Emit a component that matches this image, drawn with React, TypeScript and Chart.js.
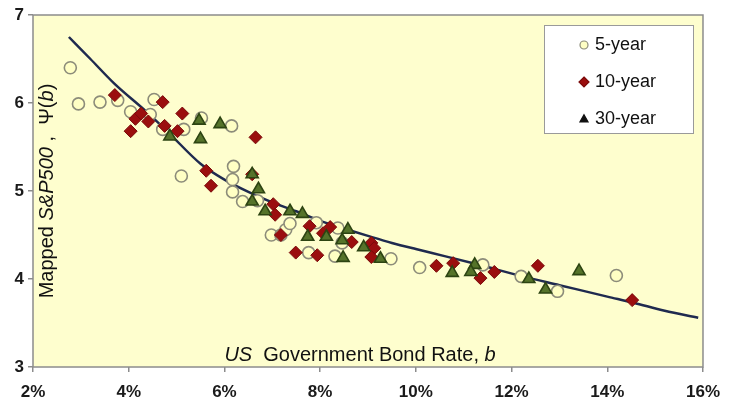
import React, { useEffect, useRef } from 'react';
import { Chart, registerables } from 'chart.js';

Chart.register(...registerables);

// ---------- data ----------
const xTickValues = [2, 4, 6, 8, 10, 12, 14, 16];
const yTickValues = [3, 4, 5, 6, 7];

const fiveYear: [number, number][] = [
  [2.78, 6.40], [2.95, 5.99], [3.40, 6.01], [3.77, 6.03], [4.53, 6.04],
  [4.04, 5.90], [4.45, 5.87], [4.71, 5.70], [5.15, 5.70], [5.52, 5.83],
  [6.15, 5.74], [5.10, 5.17], [6.19, 5.28], [6.17, 5.13], [6.17, 4.99],
  [6.38, 4.88], [6.69, 4.89], [6.98, 4.50], [7.18, 4.50], [7.28, 4.56],
  [7.37, 4.63], [7.92, 4.64], [8.37, 4.58], [7.76, 4.30], [8.31, 4.26],
  [8.46, 4.41], [9.48, 4.23], [10.08, 4.13], [11.40, 4.16], [12.20, 4.03],
  [12.96, 3.86], [14.19, 4.04],
];

const tenYear: [number, number][] = [
  [3.71, 6.09], [4.71, 6.01], [5.12, 5.88], [4.14, 5.82], [4.26, 5.88],
  [4.41, 5.79], [4.04, 5.68], [4.75, 5.74], [5.02, 5.68], [5.62, 5.23],
  [5.72, 5.06], [6.65, 5.61], [6.58, 5.19], [7.02, 4.85], [7.06, 4.73],
  [7.78, 4.60], [8.21, 4.59], [8.06, 4.52], [8.66, 4.42], [7.49, 4.30],
  [7.94, 4.27], [9.07, 4.41], [9.13, 4.35], [9.07, 4.25], [10.43, 4.15],
  [10.78, 4.18], [11.35, 4.01], [11.64, 4.08], [12.55, 4.15], [14.52, 3.76],
  [7.18, 4.50],
];

const thirtyYear: [number, number][] = [
  [5.47, 5.80], [5.91, 5.76], [5.50, 5.59], [4.86, 5.62], [6.58, 5.19],
  [6.71, 5.02], [6.58, 4.88], [6.85, 4.77], [7.37, 4.77], [7.63, 4.74],
  [8.58, 4.56], [7.74, 4.48], [8.13, 4.48], [8.46, 4.44], [8.91, 4.36],
  [8.48, 4.24], [9.26, 4.23], [10.76, 4.07], [11.23, 4.16], [11.15, 4.08],
  [12.36, 4.00], [12.71, 3.88], [13.41, 4.09],
];

const curveX = [2.75, 3.2, 3.7, 4.35, 4.82, 5.5, 6.0, 6.5, 7.0, 7.5, 8.0, 8.58, 9.0, 9.5, 10.0, 10.6, 11.26, 12.23, 13.0, 14.0, 14.55, 15.2, 15.9];
const curveY = [6.75, 6.50, 6.22, 5.91, 5.67, 5.31, 5.13, 4.99, 4.87, 4.77, 4.66, 4.56, 4.49, 4.41, 4.34, 4.26, 4.17, 4.03, 3.93, 3.80, 3.73, 3.64, 3.56];

const seriesLabels = ['5-year', '10-year', '30-year'];

// ---------- styles ----------
const FONT = "'Liberation Sans', Arial, sans-serif";
const PLOT_BG = '#FEFECE';
const AXIS_GRAY = '#8c8c8c';

const toPts = (arr: [number, number][]) => arr.map(([x, y]) => ({ x, y }));

type Seg = { t: string; font: string };
function drawRich(ctx: CanvasRenderingContext2D, segs: Seg[], cx: number, cy: number) {
  let total = 0;
  const widths = segs.map((s) => {
    ctx.font = s.font;
    const w = ctx.measureText(s.t).width;
    total += w;
    return w;
  });
  let x = cx - total / 2;
  ctx.textAlign = 'left';
  ctx.textBaseline = 'middle';
  segs.forEach((s, i) => {
    ctx.font = s.font;
    ctx.fillText(s.t, x, cy);
    x += widths[i];
  });
}

function drawMarker(ctx: CanvasRenderingContext2D, kind: string, x: number, y: number, r: number) {
  ctx.beginPath();
  if (kind === 'circle') {
    ctx.arc(x, y, r, 0, Math.PI * 2);
  } else if (kind === 'rectRot') {
    ctx.moveTo(x, y - r);
    ctx.lineTo(x + r, y);
    ctx.lineTo(x, y + r);
    ctx.lineTo(x - r, y);
    ctx.closePath();
  } else {
    const h = r * 1.6;
    ctx.moveTo(x, y - h * 0.6);
    ctx.lineTo(x + r * 0.9, y + h * 0.4);
    ctx.lineTo(x - r * 0.9, y + h * 0.4);
    ctx.closePath();
  }
  ctx.fill();
  ctx.stroke();
}

const decorPlugin = {
  id: 'decor',
  beforeDraw(chart: any) {
    const { ctx, chartArea: a } = chart;
    ctx.save();
    ctx.fillStyle = '#ffffff';
    ctx.fillRect(0, 0, chart.width, chart.height);
    ctx.fillStyle = PLOT_BG;
    ctx.fillRect(a.left, a.top, a.right - a.left, a.bottom - a.top);
    ctx.restore();
  },
  beforeDatasetsDraw(chart: any) {
    const { ctx, chartArea: a } = chart;
    ctx.save();
    ctx.fillStyle = '#111111';
    const reg = `20px ${FONT}`;
    const ital = `italic 20px ${FONT}`;
    // x axis title (inside plot)
    drawRich(
      ctx,
      [
        { t: 'US', font: ital },
        { t: '  Government Bond Rate, ', font: reg },
        { t: 'b', font: ital },
      ],
      360,
      a.bottom - 12
    );
    // y axis title (inside plot, rotated)
    ctx.translate(a.left + 14, 191);
    ctx.rotate(-Math.PI / 2);
    drawRich(
      ctx,
      [
        { t: 'Mapped ', font: reg },
        { t: 'S&P500', font: ital },
        { t: ' ,  \u03A8(', font: reg },
        { t: 'b', font: ital },
        { t: ')', font: reg },
      ],
      0,
      0
    );
    ctx.restore();
  },
  afterDraw(chart: any) {
    const { ctx, chartArea: a } = chart;
    ctx.save();
    // plot border
    ctx.strokeStyle = AXIS_GRAY;
    ctx.lineWidth = 1.5;
    ctx.strokeRect(a.left, a.top, a.right - a.left, a.bottom - a.top);

    // legend
    const bx = 544, by = 25, bw = 149, bh = 108;
    ctx.fillStyle = '#ffffff';
    ctx.fillRect(bx, by, bw, bh);
    ctx.strokeStyle = '#9a9a9a';
    ctx.lineWidth = 1;
    ctx.strokeRect(bx + 0.5, by + 0.5, bw, bh);

    const rows = [45, 82, 119];
    const kinds = ['circle', 'rectRot', 'triangle'];
    const legendFill = ['#FFFFC4', '#9B0E0E', '#111111'];
    const legendStroke = ['#8C8C7A', '#7a0a0a', '#111111'];
    const legendR = [4, 5, 4.5];
    rows.forEach((ry, i) => {
      ctx.fillStyle = legendFill[i];
      ctx.strokeStyle = legendStroke[i];
      ctx.lineWidth = 1.2;
      drawMarker(ctx, kinds[i], 584, ry, legendR[i]);
      ctx.fillStyle = '#111111';
      ctx.font = `18px ${FONT}`;
      ctx.textAlign = 'left';
      ctx.textBaseline = 'middle';
      ctx.fillText(chart.data.datasets[i].label, 595, ry);
    });
    ctx.restore();
  },
};

export default function App() {
  const ref = useRef<HTMLCanvasElement | null>(null);

  useEffect(() => {
    if (!ref.current) return;
    const tickFont = { family: FONT, size: 17, weight: 'bold' as const };
    const chart = new Chart(ref.current, {
      type: 'scatter',
      data: {
        datasets: [
          {
            label: seriesLabels[0],
            data: toPts(fiveYear),
            pointStyle: 'circle',
            pointRadius: 6,
            backgroundColor: '#FFFFC4',
            borderColor: '#8C8C7A',
            borderWidth: 1.6,
            order: 3,
          },
          {
            label: seriesLabels[1],
            data: toPts(tenYear),
            pointStyle: 'rectRot',
            pointRadius: 6.5,
            backgroundColor: '#9B0E0E',
            borderColor: '#7a0a0a',
            borderWidth: 1,
            order: 2,
          },
          {
            label: seriesLabels[2],
            data: toPts(thirtyYear),
            pointStyle: 'triangle',
            pointRadius: 7,
            backgroundColor: '#55732a',
            borderColor: '#2d4412',
            borderWidth: 1.6,
            order: 1,
          },
          {
            label: 'fit',
            type: 'line',
            data: curveX.map((x, i) => ({ x, y: curveY[i] })),
            showLine: true,
            pointRadius: 0,
            borderColor: '#1F2A4F',
            borderWidth: 2.5,
            cubicInterpolationMode: 'monotone',
            fill: false,
            order: 4,
          } as any,
        ],
      },
      options: {
        animation: false,
        responsive: false,
        maintainAspectRatio: false,
        devicePixelRatio: 1,
        layout: { padding: { top: 15, right: 17, left: 0, bottom: 0 } },
        plugins: {
          legend: { display: false },
          tooltip: { enabled: false },
        },
        scales: {
          x: {
            type: 'linear',
            min: 2,
            max: 16,
            afterBuildTicks: (s: any) => {
              s.ticks = xTickValues.map((v) => ({ value: v }));
            },
            afterFit: (s: any) => {
              s.height = 39;
            },
            ticks: {
              callback: (v: any) => `${v}%`,
              font: tickFont,
              color: '#1a1a1a',
              padding: 10,
              maxRotation: 0,
              autoSkip: false,
            },
            grid: { drawOnChartArea: false, tickLength: 5, color: AXIS_GRAY, lineWidth: 1.5 },
            border: { display: false },
          },
          y: {
            type: 'linear',
            min: 3,
            max: 7,
            afterBuildTicks: (s: any) => {
              s.ticks = yTickValues.map((v) => ({ value: v }));
            },
            afterFit: (s: any) => {
              s.width = 33;
            },
            ticks: {
              font: tickFont,
              color: '#1a1a1a',
              padding: 4,
            },
            grid: { drawOnChartArea: false, tickLength: 5, color: AXIS_GRAY, lineWidth: 1.5 },
            border: { display: false },
          },
        },
      },
      plugins: [decorPlugin],
    });
    return () => chart.destroy();
  }, []);

  return (
    <div style={{ position: 'absolute', left: 0, top: 0, width: 730, height: 406, background: '#fff' }}>
      <canvas ref={ref} width={730} height={406} style={{ display: 'block', width: 730, height: 406 }} />
    </div>
  );
}
